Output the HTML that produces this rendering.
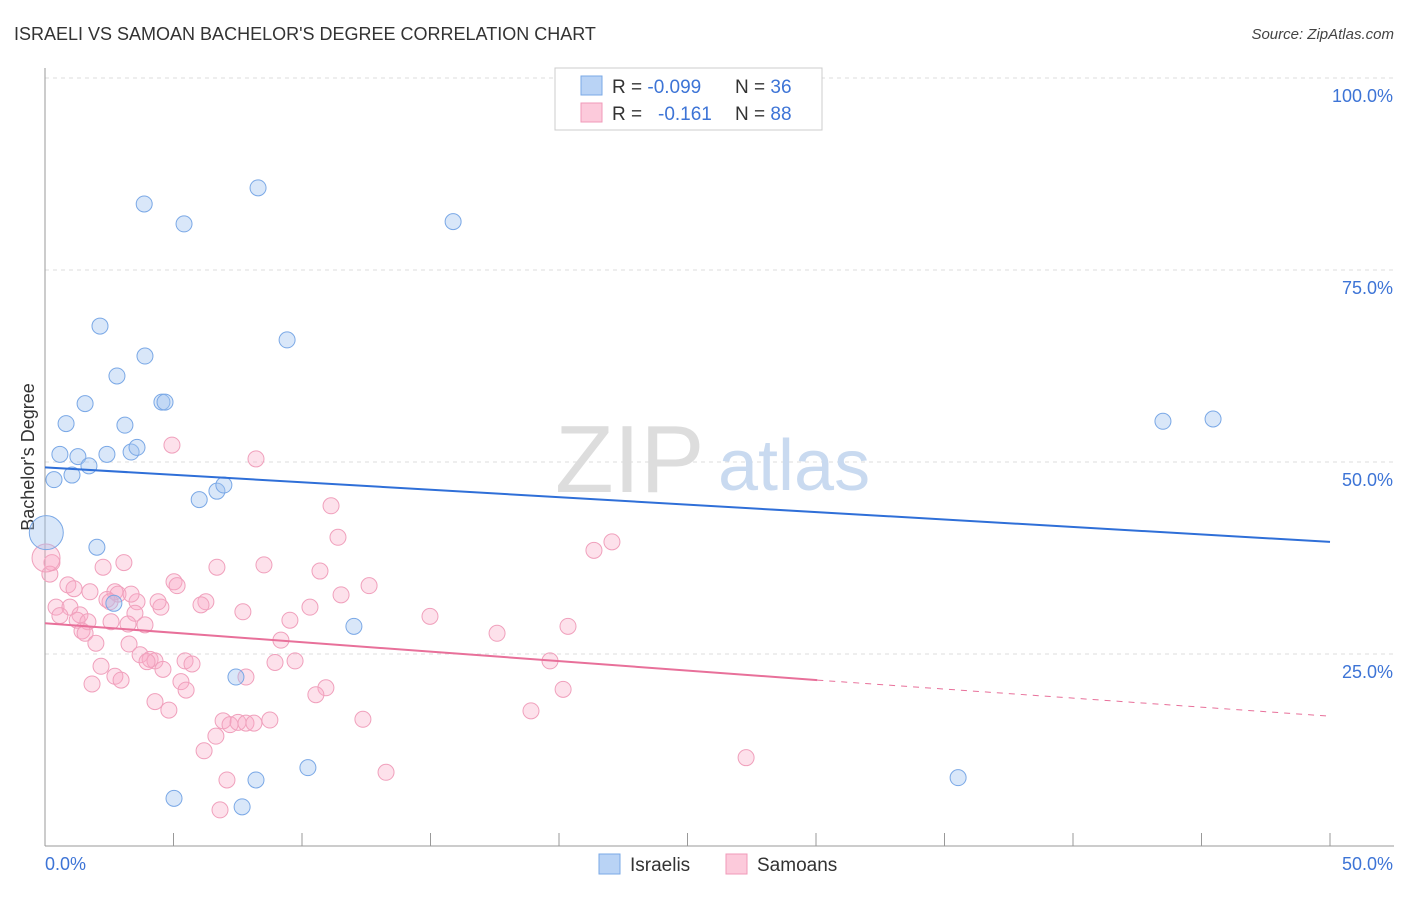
<!DOCTYPE html>
<html><head><meta charset="utf-8"><style>
body{margin:0;background:#fff;font-family:"Liberation Sans",sans-serif;}
svg text{font-family:"Liberation Sans",sans-serif;}
</style></head><body>
<svg id="chart" width="1406" height="892" viewBox="0 0 1406 892">
<text x="14" y="40" font-size="18" fill="#333">ISRAELI VS SAMOAN BACHELOR'S DEGREE CORRELATION CHART</text>
<text x="1394" y="39" font-size="15" font-style="italic" fill="#444" text-anchor="end">Source: ZipAtlas.com</text>
<g id="grid"></g>
<text x="555" y="492" font-size="96" font-family="Liberation Serif" fill="#ddd">ZIP</text>
<text x="718" y="490" font-size="72" fill="#c9daf0">atlas</text>
<text transform="translate(34,457) rotate(-90)" font-size="18" fill="#333" text-anchor="middle">Bachelor's Degree</text>
<g id="marks"></g>
<g>
<rect x="555" y="68" width="267" height="62" fill="#fff" stroke="#ccc"/>
<rect x="581" y="76" width="21" height="19" fill="#b9d3f5" stroke="#7aa8e6"/>
<rect x="581" y="103" width="21" height="19" fill="#fccadb" stroke="#f09ab8"/>
<text x="612" y="93" font-size="19" fill="#333">R = <tspan fill="#3d74d6">-0.099</tspan><tspan x="735">N = </tspan><tspan fill="#3d74d6">36</tspan></text>
<text x="612" y="120" font-size="19" fill="#333">R = <tspan x="658" fill="#3d74d6">-0.161</tspan><tspan x="735">N = </tspan><tspan fill="#3d74d6">88</tspan></text>
</g>
<g>
<rect x="599" y="854" width="21" height="20" fill="#b9d3f5" stroke="#7aa8e6"/>
<text x="630" y="871" font-size="19" fill="#333">Israelis</text>
<rect x="726" y="854" width="21" height="20" fill="#fccadb" stroke="#f09ab8"/>
<text x="757" y="871" font-size="19" fill="#333">Samoans</text>
</g>
</svg>
<script>
const yTicks=[25,50,75,100];
const yTickLabels=["25.0%","50.0%","75.0%","100.0%"];
const xTickLabels=["0.0%","50.0%"];
const israeliX=[3.86,5.41,8.29,15.88,2.14,9.42,3.89,2.8,1.56,4.55,4.67,0.82,3.11,0.58,1.28,2.41,3.35,3.58,1.71,1.05,0.35,6.0,6.69,6.96,0.05,2.02,2.68,12.02,7.43,10.23,8.21,5.02,7.67,35.53,43.5,45.45];
const israeliY=[83.6,81.0,85.7,81.3,67.7,65.9,63.8,61.2,57.6,57.8,57.8,55.0,54.8,51.0,50.7,51.0,51.3,51.9,49.5,48.3,47.7,45.1,46.2,47.0,40.8,38.9,31.6,28.6,22.0,10.2,8.6,6.2,5.1,8.9,55.3,55.6];
const israeliR=[8,8,8,8,8,8,8,8,8,8,8,8,8,8,8,8,8,8,8,8,8,8,8,8,17,8,8,8,8,8,8,8,8,8,8,8];
const samoanX=[4.94,8.21,11.13,11.4,22.06,21.36,0.27,0.19,2.26,3.07,6.69,8.52,10.7,0.89,1.13,1.75,5.02,5.14,12.61,11.52,2.72,2.84,2.41,3.58,6.26,6.07,4.51,0.43,0.97,7.7,10.31,14.98,0.58,1.36,3.5,1.25,1.67,2.57,3.23,3.89,1.44,1.56,17.59,20.35,1.98,3.27,9.18,3.7,4.09,4.28,5.45,2.18,5.72,8.95,9.73,3.97,4.59,2.72,2.96,1.83,5.29,5.49,10.93,10.54,20.16,4.28,4.82,18.91,6.93,7.2,7.51,7.82,8.13,8.75,12.37,6.65,6.19,27.28,7.08,13.27,6.81,19.65,7.82,9.53,2.53,0.04,3.35,4.4];
const samoanY=[52.2,50.4,44.3,40.2,39.6,38.5,36.9,35.4,36.3,36.9,36.3,36.6,35.8,34.0,33.5,33.1,34.4,33.9,33.9,32.7,33.1,32.8,32.1,31.8,31.8,31.4,31.1,31.1,31.1,30.5,31.1,29.9,30.0,30.1,30.3,29.4,29.2,29.2,28.9,28.8,28.0,27.7,27.7,28.6,26.4,26.3,26.8,24.9,24.3,24.1,24.1,23.4,23.7,23.9,24.1,24.0,23.0,22.1,21.6,21.1,21.4,20.3,20.6,19.7,20.4,18.8,17.7,17.6,16.3,15.8,16.1,16.0,16.0,16.4,16.5,14.3,12.4,11.5,8.6,9.6,4.7,24.1,22.0,29.4,31.8,37.5,32.8,31.8];
const w=document.getElementById('marks'),g=document.getElementById('grid'),NS="http://www.w3.org/2000/svg";
const X0=45,X1=1330,Y0=846,YS=7.68;
function xs(v){return X0+(X1-X0)*v/50;}
function ys(v){return Y0-YS*v;}
function mk(t,a,p){const e=document.createElementNS(NS,t);for(const k in a)e.setAttribute(k,a[k]);p.appendChild(e);return e;}
yTicks.forEach((t,i)=>{
 const l=mk('line',{x1:45,x2:1394,y1:ys(t),y2:ys(t),stroke:'#ddd','stroke-dasharray':'4,4'},g);
 
 
 const tx=mk('text',{x:1393,y:ys(t)+24,'font-size':18,fill:'#3d74d6','text-anchor':'end'},g);
 tx.textContent=yTickLabels[i];
 
 
});
mk('line',{x1:45,x2:45,y1:68,y2:846,stroke:'#999'},g);
mk('line',{x1:45,x2:1394,y1:846,y2:846,stroke:'#999'},g);
for(let i=0;i<=10;i++){const t=mk('line',{x1:xs(i*5),x2:xs(i*5),y1:846,y2:833,stroke:'#999'},g);
 
 }
xTickLabels.forEach((s,i)=>{const t=mk('text',{x:i?1393:45,y:870,'font-size':18,fill:'#3d74d6','text-anchor':i?'end':'start'},g);t.textContent=s;
 
 });
samoanX.forEach((x,i)=>{const c=mk('circle',{cx:xs(x),cy:ys(samoanY[i]),r:i==85?14:8,fill:'rgba(248,170,198,0.35)',stroke:'#f0a0bc','stroke-width':1},w);
 
 });
israeliX.forEach((x,i)=>{const c=mk('circle',{cx:xs(x),cy:ys(israeliY[i]),r:israeliR[i],fill:'rgba(160,195,240,0.4)',stroke:'#7aa8e6','stroke-width':1},w);
 
 });
const bl=mk('line',{x1:xs(0),y1:ys(49.3),x2:xs(50),y2:ys(39.6),stroke:'#2f6fd8','stroke-width':2},w);


const pl=mk('line',{x1:xs(0),y1:ys(29.0),x2:xs(30.05),y2:ys(21.6),stroke:'#e8709a','stroke-width':2},w);


const pd=mk('line',{x1:xs(30.05),y1:ys(21.6),x2:xs(50),y2:ys(16.9),stroke:'#e8709a','stroke-width':1,'stroke-dasharray':'6,6'},w);


</script>
</body></html>
